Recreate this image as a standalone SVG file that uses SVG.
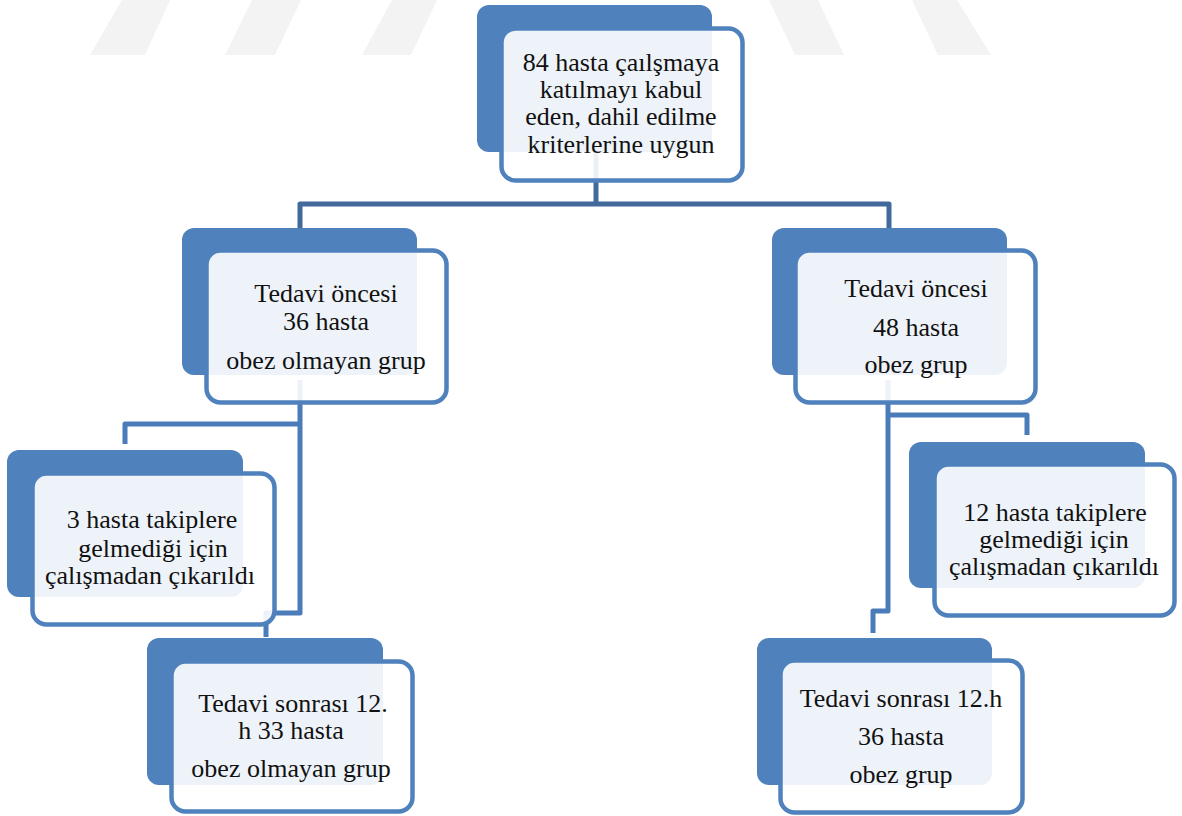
<svg xmlns="http://www.w3.org/2000/svg" width="1182" height="816" viewBox="0 0 1182 816">
<style>
.back{fill:#4F81BD}
.front{fill:#FFFFFF;fill-opacity:0.9;stroke:#4F81BD;stroke-width:4.5}
.t{font-family:'Liberation Serif','DejaVu Serif',serif;font-size:26px;fill:#111;text-anchor:middle}
.wm{fill:#F3F3F3}
.c1{fill:none;stroke:#41699C;stroke-width:5;stroke-linejoin:round}
.c2{fill:none;stroke:#4A7CB9;stroke-width:5;stroke-linejoin:round}
</style>
<rect width="1182" height="816" fill="#FFFFFF"/>
<g id="watermark">
<polygon class="wm" points="90,55 145,55 170,0 122,0"/>
<polygon class="wm" points="225,55 275,55 301,0 252,0"/>
<polygon class="wm" points="362,55 411,55 437,0 392,0"/>
<polygon class="wm" points="795,55 844,55 818,0 769,0"/>
<polygon class="wm" points="938,55 991,55 957,0 912,0"/>
</g>
<g id="connectors">
<path class="c1" d="M596 150 V204"/>
<path class="c1" d="M300 228 V204 H889 V228"/>
<path class="c2" d="M300 380 V613 H266 V637"/>
<path class="c2" d="M300 424 H125 V444"/>
<path class="c2" d="M888 380 V611 H873 V633"/>
<path class="c2" d="M888 415 H1027 V435"/>
</g>
<g id="node-top">
<rect class="back" x="477" y="5" width="235" height="147" rx="12"/>
<rect class="front" x="501.5" y="28.5" width="241" height="152" rx="14"/>
<text class="t" x="621" y="71" font-family="Liberation Serif, serif">84 hasta çaılşmaya</text>
<text class="t" x="621" y="98" font-family="Liberation Serif, serif">katılmayı kabul</text>
<text class="t" x="621" y="125" font-family="Liberation Serif, serif">eden, dahil edilme</text>
<text class="t" x="621" y="153" font-family="Liberation Serif, serif">kriterlerine uygun</text>
</g>
<g id="node-left1">
<rect class="back" x="182" y="228" width="235" height="147" rx="12"/>
<rect class="front" x="206.5" y="250.5" width="240" height="152" rx="14"/>
<text class="t" x="326" y="302">Tedavi öncesi</text>
<text class="t" x="326" y="330">36 hasta</text>
<text class="t" x="326" y="369">obez olmayan grup</text>
</g>
<g id="node-right1">
<rect class="back" x="772" y="228" width="235" height="147" rx="12"/>
<rect class="front" x="795.5" y="250.5" width="240" height="152" rx="14"/>
<text class="t" x="916" y="297">Tedavi öncesi</text>
<text class="t" x="916" y="336">48 hasta</text>
<text class="t" x="916" y="373">obez grup</text>
</g>
<g id="node-left2">
<rect class="back" x="7" y="450" width="236" height="147" rx="12"/>
<rect class="front" x="32.5" y="473.5" width="242" height="151" rx="14"/>
<text class="t" x="152" y="528">3 hasta takiplere</text>
<text class="t" x="153" y="557">gelmediği için</text>
<text class="t" x="150" y="584">çalışmadan çıkarıldı</text>
</g>
<g id="node-right2">
<rect class="back" x="909" y="442" width="236" height="146" rx="12"/>
<rect class="front" x="934.5" y="464.5" width="240" height="151" rx="14"/>
<text class="t" x="1055" y="521">12 hasta takiplere</text>
<text class="t" x="1054" y="548">gelmediği için</text>
<text class="t" x="1054" y="575">çalışmadan çıkarıldı</text>
</g>
<g id="node-left3">
<rect class="back" x="147" y="638" width="236" height="147" rx="12"/>
<rect class="front" x="171.5" y="661.5" width="241" height="150" rx="14"/>
<text class="t" x="293" y="712">Tedavi sonrası 12.</text>
<text class="t" x="291" y="739">h 33 hasta</text>
<text class="t" x="291" y="777">obez olmayan grup</text>
</g>
<g id="node-right3">
<rect class="back" x="757" y="638" width="235" height="147" rx="12"/>
<rect class="front" x="780.5" y="660.5" width="242" height="152" rx="14"/>
<text class="t" x="901" y="707">Tedavi sonrası 12.h</text>
<text class="t" x="901" y="745">36 hasta</text>
<text class="t" x="901" y="783">obez grup</text>
</g>
</svg>
